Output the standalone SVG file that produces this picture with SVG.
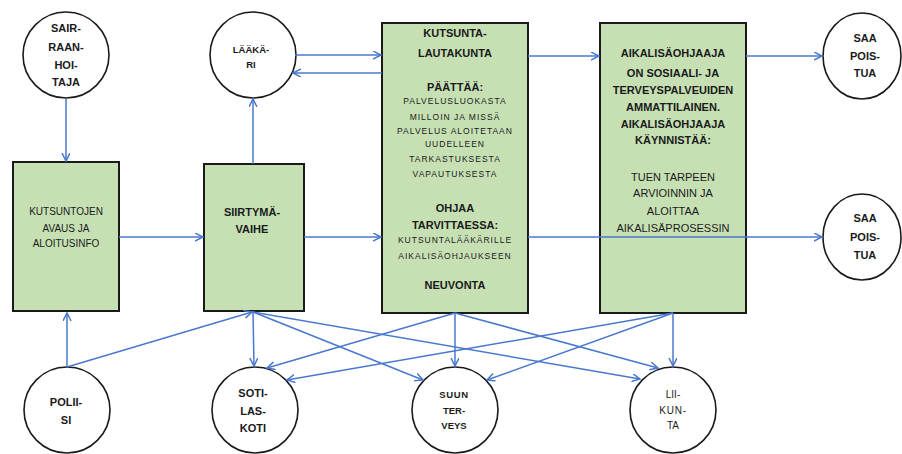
<svg xmlns="http://www.w3.org/2000/svg" width="902" height="454" viewBox="0 0 902 454">
<defs>
<marker id="arr" markerWidth="10" markerHeight="10" refX="8" refY="4" orient="auto" markerUnits="userSpaceOnUse">
<path d="M0,0 L8,4 L0,8" fill="none" stroke="#4a78cf" stroke-width="1.5"/>
</marker>
<style>
.box{fill:#c6e0b4;stroke:#1a1a1a;stroke-width:2}
.circ{fill:#ffffff;stroke:#1a1a1a;stroke-width:1.6}
.t{font-family:"Liberation Sans",Arial,sans-serif;fill:#1a1a1a;text-anchor:middle}
.b{font-weight:bold;font-size:11px}
.r{font-size:11px}
.s{font-size:8.5px;letter-spacing:1px}
.m{font-size:9.5px;font-weight:bold}
.k{font-size:10px}
.c line{stroke:#4a78cf;stroke-width:1.5;marker-end:url(#arr)}
</style>
</defs>
<rect width="902" height="454" fill="#ffffff"/>

<g id="sairaanhoitaja">
<circle class="circ" cx="66" cy="55" r="43"/>
<text class="t b" x="66" y="32">SAIR-</text>
<text class="t b" x="66" y="51">RAAN-</text>
<text class="t b" x="66" y="69">HOI-</text>
<text class="t b" x="66" y="86">TAJA</text>
</g>

<g id="laakari">
<circle class="circ" cx="253" cy="55" r="43"/>
<text class="t m" x="251" y="53">LÄÄKÄ-</text>
<text class="t m" x="251" y="68">RI</text>
</g>

<g id="kutsuntojen">
<rect class="box" x="13" y="162" width="106" height="149"/>
<text class="t k" x="66" y="215">KUTSUNTOJEN</text>
<text class="t k" x="66" y="232">AVAUS JA</text>
<text class="t k" x="66" y="247">ALOITUSINFO</text>
</g>

<g id="siirtyma">
<rect class="box" x="204" y="164" width="100" height="147"/>
<text class="t b" x="252" y="216">SIIRTYMÄ-</text>
<text class="t b" x="252" y="233">VAIHE</text>
</g>

<g id="kutsuntalautakunta">
<rect class="box" x="382" y="23" width="146" height="290"/>
<text class="t b" x="455" y="37">KUTSUNTA-</text>
<text class="t b" x="455" y="57">LAUTAKUNTA</text>
<text class="t b" x="455" y="91">PÄÄTTÄÄ:</text>
<text class="t s" x="455" y="104">PALVELUSLUOKASTA</text>
<text class="t s" x="455" y="120">MILLOIN JA MISSÄ</text>
<text class="t s" x="455" y="134">PALVELUS ALOITETAAN</text>
<text class="t s" x="455" y="147">UUDELLEEN</text>
<text class="t s" x="455" y="162">TARKASTUKSESTA</text>
<text class="t s" x="455" y="177">VAPAUTUKSESTA</text>
<text class="t b" x="455" y="212">OHJAA</text>
<text class="t b" x="455" y="229">TARVITTAESSA:</text>
<text class="t s" x="455" y="243">KUTSUNTALÄÄKÄRILLE</text>
<text class="t s" x="455" y="259">AIKALISÄOHJAUKSEEN</text>
<text class="t b" x="455" y="289">NEUVONTA</text>
</g>

<g id="aikalisaohjaaja">
<rect class="box" x="600" y="23" width="146" height="290"/>
<text class="t b" x="673" y="57">AIKALISÄOHJAAJA</text>
<text class="t b" x="673" y="77">ON SOSIAALI- JA</text>
<text class="t b" x="673" y="94">TERVEYSPALVEUIDEN</text>
<text class="t b" x="673" y="111">AMMATTILAINEN.</text>
<text class="t b" x="673" y="128">AIKALISÄOHJAAJA</text>
<text class="t b" x="673" y="144">KÄYNNISTÄÄ:</text>
<text class="t r" x="673" y="181">TUEN TARPEEN</text>
<text class="t r" x="673" y="197">ARVIOINNIN JA</text>
<text class="t r" x="673" y="215">ALOITTAA</text>
<text class="t r" x="673" y="232">AIKALISÄPROSESSIN</text>
</g>

<g id="saapoistua1">
<ellipse class="circ" cx="862" cy="56" rx="39" ry="43"/>
<text class="t b" x="865" y="42">SAA</text>
<text class="t b" x="865" y="60">POIS-</text>
<text class="t b" x="865" y="77">TUA</text>
</g>

<g id="saapoistua2">
<ellipse class="circ" cx="862" cy="237" rx="39" ry="43"/>
<text class="t b" x="865" y="222">SAA</text>
<text class="t b" x="865" y="241">POIS-</text>
<text class="t b" x="865" y="259">TUA</text>
</g>

<g id="poliisi">
<circle class="circ" cx="67" cy="410" r="43"/>
<text class="t b" x="66" y="406">POLII-</text>
<text class="t b" x="66" y="424">SI</text>
</g>

<g id="sotilaskoti">
<circle class="circ" cx="255" cy="410" r="43"/>
<text class="t b" x="253" y="397">SOTI-</text>
<text class="t b" x="253" y="415">LAS-</text>
<text class="t b" x="253" y="432">KOTI</text>
</g>

<g id="suunterveys">
<circle class="circ" cx="455" cy="410" r="43"/>
<text class="t m" x="454" y="398" style="letter-spacing:0.6px">SUUN</text>
<text class="t m" x="454" y="414">TER-</text>
<text class="t m" x="454" y="429">VEYS</text>
</g>

<g id="liikunta">
<circle class="circ" cx="673" cy="410" r="43"/>
<text class="t k" x="673" y="398">LII-</text>
<text class="t k" x="673" y="414" style="letter-spacing:0.8px">KUN-</text>
<text class="t k" x="673" y="429">TA</text>
</g>

<g id="connectors" class="c">
<line x1="66" y1="99" x2="66" y2="161"/>
<line x1="67" y1="367" x2="67" y2="313"/>
<line x1="67" y1="367" x2="252" y2="312"/>
<line x1="119" y1="237" x2="203" y2="237"/>
<line x1="253" y1="164" x2="253" y2="99"/>
<line x1="295" y1="55" x2="381" y2="55"/>
<line x1="382" y1="73" x2="293" y2="73"/>
<line x1="304" y1="237" x2="381" y2="237"/>
<line x1="528" y1="56" x2="599" y2="56"/>
<line x1="746" y1="56" x2="822" y2="56"/>
<line x1="528" y1="237" x2="822" y2="237"/>
<line x1="253" y1="312" x2="254" y2="366"/>
<line x1="253" y1="312" x2="423" y2="380"/>
<line x1="253" y1="312" x2="640" y2="379"/>
<line x1="455" y1="313" x2="455" y2="366"/>
<line x1="455" y1="313" x2="267" y2="368"/>
<line x1="455" y1="313" x2="658" y2="368"/>
<line x1="673" y1="313" x2="673" y2="366"/>
<line x1="673" y1="313" x2="487" y2="380"/>
<line x1="673" y1="313" x2="287" y2="380"/>
</g>
</svg>
